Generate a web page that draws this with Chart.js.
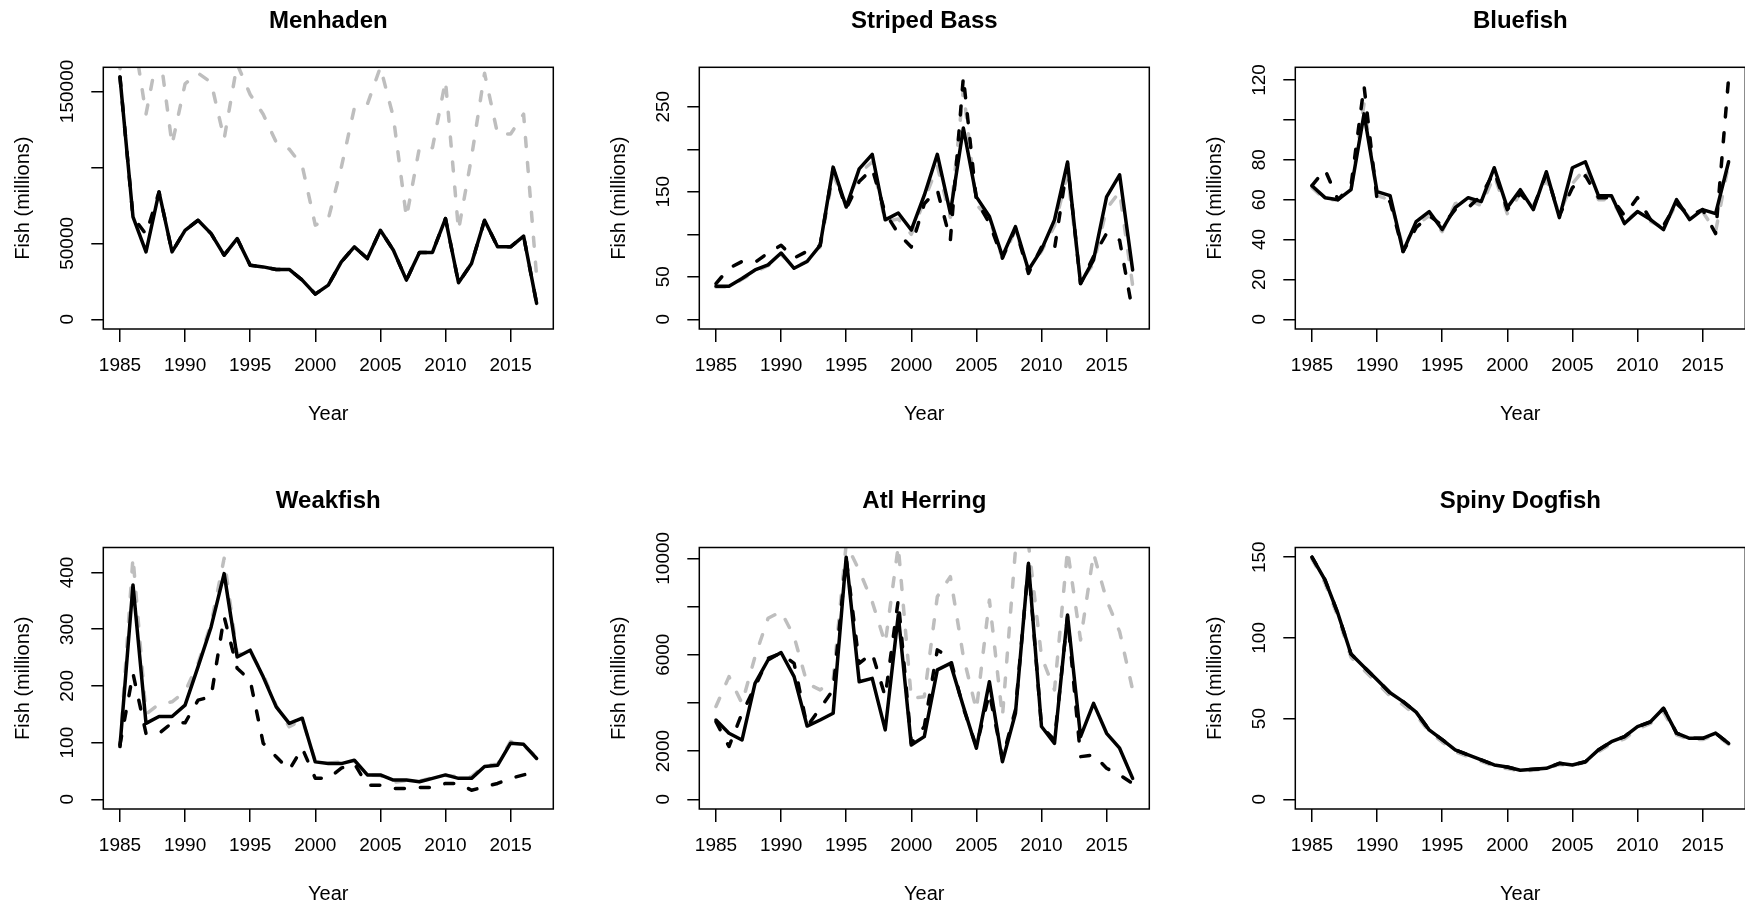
<!DOCTYPE html>
<html>
<head>
<meta charset="utf-8">
<script src="https://cdn.jsdelivr.net/npm/chart.js@4.4.1/dist/chart.umd.min.js"></script>
<style>
  html, body { margin: 0; padding: 0; background: #fff; width: 1745px; height: 903px; overflow: hidden; }
  canvas { position: absolute; }
</style>
</head>
<body>
<script>
const years = [1985, 1986, 1987, 1988, 1989, 1990, 1991, 1992, 1993, 1994, 1995, 1996, 1997, 1998, 1999, 2000,
  2001, 2002, 2003, 2004, 2005, 2006, 2007, 2008, 2009, 2010, 2011, 2012, 2013, 2014, 2015, 2016, 2017];
const xTicks = [1985, 1990, 1995, 2000, 2005, 2010, 2015];
const titles = ["Menhaden", "Striped Bass", "Bluefish", "Weakfish", "Atl Herring", "Spiny Dogfish"];

// Menhaden
const menhadenSolid = [159500, 67400, 44400, 83800, 44400, 58600, 65200, 56400, 42200, 53100, 35600, 34500, 32800, 32800, 25800, 16600,
  22500, 37800, 47700, 40000, 58600, 45500, 25800, 44000, 44000, 66300, 24100, 36700, 65200, 47700, 47700, 54700, 10500];
const menhadenDashed = [159500, 67400, 56000, 83800, 44400, 58600, 65200, 56400, 42200, 53100, 35600, 34500, 32800, 32800, 25800, 16600,
  22500, 37800, 47700, 40000, 58600, 45500, 25800, 44000, 44000, 66300, 24100, 36700, 65200, 47700, 47700, 54700, 10500];
const menhadenGray = [165000, 190000, 135000, 180000, 115000, 155000, 162000, 156000, 118700, 168000, 148000, 135000, 116500, 112000, 101000, 62000,
  66000, 100000, 139000, 141600, 166000, 133000, 67000, 113000, 113000, 157000, 58600, 106700, 162000, 122000, 122000, 135000, 28000];

// Striped Bass
const bassSolid = [39, 39, 48, 58, 64, 78, 60, 68, 87, 179, 132, 177, 194, 117, 125, 105,
  146, 194, 125, 225, 144, 121, 74, 109, 58, 82, 117, 185, 42, 70, 144, 170, 58];
const bassDashed = [42, 60, 68, 67, 78, 87, 72, 80, 87, 177, 130, 162, 177, 125, 101, 85,
  136, 152, 93, 285, 140, 113, 72, 107, 54, 85, 83, 183, 42, 74, 101, 93, 9];
const bassGray = [38, 38, 47, 56, 63, 76, 62, 68, 85, 170, 135, 172, 185, 115, 118, 100,
  140, 180, 120, 270, 135, 118, 72, 105, 58, 80, 110, 170, 45, 65, 130, 150, 40];

// Bluefish
const blueSolid = [67, 61, 60, 65, 103, 64, 62, 34, 49, 54, 45, 56, 61, 59, 76, 56,
  65, 55, 74, 51, 76, 79, 62, 62, 48, 54, 50, 45, 60, 50, 55, 53, 79];
const blueDashed = [67, 75, 60, 67, 117, 60, 59, 34, 46, 52, 47, 55, 56, 62, 74, 55,
  63, 56, 73, 52, 66, 72, 61, 61, 52, 61, 50, 47, 58, 52, 55, 43, 121];
const blueGray = [66, 60, 60, 65, 108, 62, 60, 36, 47, 52, 44, 58, 60, 57, 72, 53,
  63, 57, 70, 53, 68, 76, 60, 60, 49, 54, 49, 46, 58, 51, 54, 44, 78];

// Weakfish
const weakSolid = [93, 378, 134, 146, 146, 166, 234, 304, 398, 251, 263, 216, 163, 134, 143, 66,
  63, 63, 69, 43, 43, 34, 34, 31, 37, 43, 37, 37, 58, 60, 99, 97, 72];
const weakDashed = [96, 222, 116, 116, 135, 135, 175, 181, 322, 231, 210, 99, 75, 52, 90, 37,
  37, 55, 63, 25, 25, 19, 19, 21, 21, 28, 28, 16, 22, 28, 37, 43, 49];
const weakGray = [93, 427, 150, 168, 172, 190, 240, 310, 425, 255, 260, 220, 165, 128, 140, 68,
  64, 66, 68, 43, 42, 30, 33, 32, 38, 42, 40, 40, 60, 62, 102, 95, 75];

// Atl Herring
const herringSolid = [3290, 2740, 2460, 4810, 5780, 6090, 5090, 3040, 3290, 3570, 10046, 4880, 5020, 2880, 7650, 2250,
  2600, 5370, 5640, 3850, 2120, 4880, 1560, 3570, 9790, 3020, 2320, 7650, 2600, 3980, 2740, 2120, 870];
const herringDashed = [3220, 2190, 3570, 4670, 5850, 6060, 5640, 3020, 3780, 4540, 10000, 5640, 6060, 4260, 8270, 2320,
  3020, 6200, 5850, 3780, 2190, 4400, 1700, 3710, 9720, 3020, 2460, 7580, 1770, 1840, 1290, 1010, 660];
const herringGray = [3850, 5090, 3980, 5920, 7510, 7790, 6750, 4810, 4540, 4950, 10600, 9500, 8200, 6470, 10500, 4190,
  4260, 8410, 9240, 5920, 3710, 8270, 3430, 10350, 10600, 5920, 4540, 10350, 6610, 10200, 8270, 6960, 4540];

// Spiny Dogfish
const dogSolid = [150, 136, 115, 90, 82, 74, 66, 60.5, 54, 43, 37, 30.6, 27.5, 24.4, 21.3, 20,
  18, 18.6, 19.2, 22.3, 21.3, 23.3, 30.6, 35.7, 38.8, 45, 48, 56.4, 41, 37.8, 37.8, 41, 34.7];
const dogDashed = [150, 136, 115, 90, 82, 74, 66, 60.5, 54, 43, 37, 30.6, 27.5, 24.4, 21.3, 20,
  18, 18.6, 19.2, 22.3, 21.3, 23.3, 30.6, 35.7, 38.8, 45, 48, 56.4, 41, 37.8, 37.8, 41, 34.7];
const dogGray = [149, 134, 113, 88, 80, 72, 64, 58.5, 52, 42, 35.5, 29.5, 26.5, 23.5, 20.5, 19,
  17.5, 18, 19, 21.5, 21, 23, 29.5, 34.5, 37.5, 43.5, 47, 54, 40, 37, 37, 40, 34];

// y axis: upper data limit, tick positions, labelled ticks
const yTops = [159500, 285, 121.5, 427, 10046, 150];
const yTicks = [
  [0, 50000, 100000, 150000],
  [0, 50, 100, 150, 200, 250],
  [0, 20, 40, 60, 80, 100, 120],
  [0, 100, 200, 300, 400],
  [0, 2000, 4000, 6000, 8000, 10000],
  [0, 50, 100, 150]
];
const yLabels = [
  [0, 50000, 150000],
  [0, 50, 150, 250],
  [0, 20, 40, 60, 80, 120],
  [0, 100, 200, 300, 400],
  [0, 2000, 6000, 10000],
  [0, 50, 100, 150]
];

const solids = [menhadenSolid, bassSolid, blueSolid, weakSolid, herringSolid, dogSolid];
const dasheds = [menhadenDashed, bassDashed, blueDashed, weakDashed, herringDashed, dogDashed];
const grays = [menhadenGray, bassGray, blueGray, weakGray, herringGray, dogGray];

const FONT = '"Liberation Sans", Arial, sans-serif';

// R-style frame: box, rotated y labels, titles
const rAxes = {
  id: "rAxes",
  afterDraw(chart, args, o) {
    const ctx = chart.ctx;
    const a = chart.chartArea;
    const xs = chart.scales.x, ys = chart.scales.y;
    ctx.save();
    ctx.strokeStyle = "#000";
    ctx.lineWidth = 1.5;
    ctx.strokeRect(a.left, a.top, a.right - a.left, a.bottom - a.top);
    ctx.fillStyle = "#000";
    ctx.textAlign = "center";
    ctx.textBaseline = "middle";
    ctx.font = "19px " + FONT;
    xTicks.forEach(v => ctx.fillText(String(v), xs.getPixelForValue(v), a.bottom + 37));
    o.labels.forEach(v => {
      ctx.save();
      ctx.translate(a.left - 36, ys.getPixelForValue(v));
      ctx.rotate(-Math.PI / 2);
      ctx.fillText(String(v), 0, 0);
      ctx.restore();
    });
    ctx.font = "20px " + FONT;
    ctx.fillText("Year", (a.left + a.right) / 2, a.bottom + 85);
    ctx.save();
    ctx.translate(a.left - 80, (a.top + a.bottom) / 2);
    ctx.rotate(-Math.PI / 2);
    ctx.fillText("Fish (millions)", 0, 0);
    ctx.restore();
    ctx.font = "bold 24px " + FONT;
    ctx.fillText(o.title, (a.left + a.right) / 2, a.top - 46);
    ctx.restore();
  }
};

function series(vals) {
  return years.map((yr, i) => ({ x: yr, y: vals[i] }));
}

const colLeft = [0, 596, 1192];
const colWidth = [596, 596, 554];
const rowTop = [0, 480];
const rowHeight = [480, 423];
const boxLeft = 103.3, boxWidth = 450, boxTop = [67.3, 67.5], boxBottom = 329, xAxisH = 20;

for (let i = 0; i < 6; i++) {
  const c = i % 3, r = Math.floor(i / 3);
  const cv = document.createElement("canvas");
  cv.width = colWidth[c];
  cv.height = rowHeight[r];
  cv.style.left = colLeft[c] + "px";
  cv.style.top = rowTop[r] + "px";
  document.body.appendChild(cv);

  const top = yTops[i];
  new Chart(cv, {
    type: "line",
    data: {
      datasets: [
        { data: series(solids[i]), borderColor: "#000", borderWidth: 3.5 },
        { data: series(dasheds[i]), borderColor: "#000", borderWidth: 3.5, borderDash: [9, 16] },
        { data: series(grays[i]), borderColor: "#bebebe", borderWidth: 3.5, borderDash: [9, 16] }
      ]
    },
    options: {
      responsive: false,
      animation: false,
      events: [],
      layout: {
        padding: {
          left: 0,
          top: boxTop[r],
          right: colWidth[c] - boxLeft - boxWidth,
          bottom: rowHeight[r] - boxBottom - xAxisH
        }
      },
      elements: {
        point: { radius: 0 },
        line: { tension: 0, borderCapStyle: "round", borderJoinStyle: "round", fill: false }
      },
      datasets: { line: { clip: 0 } },
      scales: {
        x: {
          type: "linear",
          min: 1983.72,
          max: 2018.28,
          afterBuildTicks: s => { s.ticks = xTicks.map(v => ({ value: v })); },
          afterFit: s => { s.height = xAxisH; },
          ticks: { display: false },
          grid: { drawOnChartArea: false, drawTicks: true, tickLength: 13, color: "#000", lineWidth: 1.5 },
          border: { display: false }
        },
        y: {
          type: "linear",
          min: -0.04 * top,
          max: 1.04 * top,
          afterBuildTicks: s => { s.ticks = yTicks[i].map(v => ({ value: v })); },
          afterFit: s => { s.width = boxLeft; },
          ticks: { display: false },
          grid: { drawOnChartArea: false, drawTicks: true, tickLength: 12, color: "#000", lineWidth: 1.5 },
          border: { display: false }
        }
      },
      plugins: {
        legend: { display: false },
        tooltip: { enabled: false },
        rAxes: { title: titles[i], labels: yLabels[i] }
      }
    },
    plugins: [rAxes]
  });
}
</script>
</body>
</html>
